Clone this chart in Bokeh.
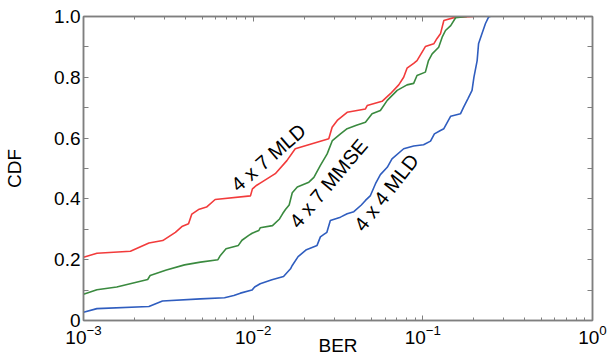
from bokeh.plotting import figure
from bokeh.models import (FixedTicker, LogAxis, LinearAxis, Label, CustomJSTickFormatter,
                          LogTickFormatter, Range1d)
from bokeh.embed import file_html
from bokeh.resources import INLINE

# ---- data ----
mld47_ber = [1.0e-3, 1.2e-3, 1.89e-3, 2.43e-3, 2.93e-3, 3.48e-3, 3.80e-3, 4.16e-3, 4.35e-3,
             4.76e-3, 5.31e-3, 5.97e-3, 9.64e-3, 9.9e-3, 1.05e-2, 1.10e-2, 1.35e-2, 1.58e-2,
             1.77e-2, 2.79e-2, 2.92e-2, 3.13e-2, 3.58e-2, 4.59e-2, 4.70e-2, 5.75e-2, 6.44e-2,
             7.21e-2, 7.71e-2, 8.07e-2, 8.83e-2, 9.24e-2, 0.1035, 0.116, 0.121, 0.127, 0.133,
             0.156, 0.200]
mld47_cdf = [0.208, 0.221, 0.228, 0.255, 0.263, 0.290, 0.309, 0.318, 0.350,
             0.365, 0.373, 0.398, 0.410, 0.433, 0.445, 0.452, 0.483, 0.526,
             0.565, 0.598, 0.636, 0.658, 0.685, 0.696, 0.707, 0.721, 0.746,
             0.775, 0.800, 0.830, 0.846, 0.855, 0.901, 0.910, 0.927, 0.943, 0.987,
             0.998, 1.0]

mmse47_ber = [1.0e-3, 1.2e-3, 1.57e-3, 2.39e-3, 2.47e-3, 3.08e-3, 3.94e-3, 4.89e-3, 6.20e-3,
              6.41e-3, 6.92e-3, 8.18e-3, 8.59e-3, 9.42e-3, 9.86e-3, 1.08e-2, 1.10e-2, 1.30e-2,
              1.43e-2, 1.49e-2, 1.55e-2, 1.63e-2, 1.70e-2, 1.82e-2, 2.13e-2, 2.28e-2, 2.49e-2,
              2.73e-2, 2.93e-2, 3.27e-2, 3.58e-2, 4.06e-2, 4.59e-2, 5.02e-2, 5.62e-2, 6.17e-2,
              7.06e-2, 8.07e-2, 8.83e-2, 9.24e-2, 0.1035, 0.108, 0.1135, 0.124, 0.130, 0.136,
              0.146, 0.156, 0.182]
mmse47_cdf = [0.086, 0.101, 0.110, 0.135, 0.148, 0.166, 0.183, 0.192, 0.200,
              0.214, 0.236, 0.247, 0.264, 0.280, 0.287, 0.296, 0.305, 0.312,
              0.334, 0.351, 0.365, 0.380, 0.420, 0.439, 0.455, 0.471, 0.510,
              0.548, 0.592, 0.614, 0.631, 0.642, 0.652, 0.680, 0.691, 0.724,
              0.757, 0.775, 0.780, 0.806, 0.817, 0.855, 0.877, 0.899, 0.932, 0.954,
              0.970, 0.996, 1.0]

mld44_ber = [1.0e-3, 1.2e-3, 2.43e-3, 2.92e-3, 4.89e-3, 6.78e-3, 7.69e-3, 8.41e-3, 9.84e-3,
             1.02e-2, 1.10e-2, 1.29e-2, 1.51e-2, 1.66e-2, 1.70e-2, 1.84e-2, 2.06e-2, 2.38e-2,
             2.49e-2, 2.61e-2, 2.72e-2, 2.85e-2, 3.27e-2, 3.58e-2, 3.92e-2, 4.34e-2, 4.59e-2,
             4.91e-2, 5.26e-2, 5.62e-2, 6.17e-2, 6.58e-2, 7.71e-2, 8.83e-2, 0.101, 0.111,
             0.117, 0.127, 0.133, 0.146, 0.1666, 0.174, 0.1845, 0.195, 0.200, 0.209, 0.213,
             0.223, 0.234, 0.244, 0.25]
mld44_cdf = [0.027, 0.039, 0.046, 0.064, 0.071, 0.075, 0.082, 0.090, 0.100,
             0.110, 0.121, 0.134, 0.145, 0.170, 0.181, 0.210, 0.233, 0.247,
             0.275, 0.283, 0.290, 0.329, 0.340, 0.351, 0.358, 0.380, 0.395,
             0.411, 0.450, 0.480, 0.504, 0.532, 0.565, 0.574, 0.578, 0.590,
             0.614, 0.625, 0.631, 0.672, 0.680, 0.702, 0.730, 0.757, 0.800, 0.855, 0.910,
             0.943, 0.977, 0.998, 1.0]

x_major = [1e-3, 1e-2, 1e-1, 1e0]
y_major = [0, 0.2, 0.4, 0.6, 0.8, 1.0]

FONT = "Liberation Sans"
GRAY = "#7f7f7f"

x_minor = [m * d for d in x_major[:-1] for m in range(2, 10)]
y_minor = [v + 0.1 for v in y_major[:-1]]

p = figure(width=608, height=361, x_axis_type="log", output_backend="svg",
           toolbar_location=None, x_range=Range1d(1e-3, 1.0), y_range=Range1d(0, 1.0),
           min_border_left=83, min_border_right=16, min_border_top=16, min_border_bottom=41)
p.grid.visible = False
p.outline_line_color = GRAY
p.outline_line_width = 1.5

p.line(mld47_ber, mld47_cdf, line_color="#f23b3b", line_width=1.6)
p.line(mmse47_ber, mmse47_cdf, line_color="#3a8a3f", line_width=1.6)
p.line(mld44_ber, mld44_cdf, line_color="#2f5dbf", line_width=1.6)

xt = FixedTicker(ticks=x_major, minor_ticks=x_minor)
yt = FixedTicker(ticks=y_major, minor_ticks=y_minor)

def style(ax):
    ax.axis_line_color = GRAY
    ax.axis_line_width = 1.5
    ax.major_tick_line_color = GRAY
    ax.minor_tick_line_color = GRAY
    ax.major_tick_in = 5
    ax.major_tick_out = 0
    ax.minor_tick_in = 3
    ax.minor_tick_out = 0
    ax.major_label_text_font = FONT
    ax.major_label_text_font_size = "19px"
    ax.major_label_text_color = "black"
    ax.axis_label_text_font = FONT
    ax.axis_label_text_font_size = "19px"
    ax.axis_label_text_font_style = "normal"
    ax.axis_label_text_color = "black"

xa = p.xaxis[0]
xa.ticker = xt
xa.formatter = LogTickFormatter()
xa.axis_label = "BER"
xa.axis_label_standoff = -12
xa.major_label_standoff = 4
style(xa)

ya = p.yaxis[0]
ya.ticker = yt
ya.formatter = CustomJSTickFormatter(code="return tick == 0 ? '0' : tick.toFixed(1);")
ya.axis_label = "CDF"
ya.axis_label_standoff = 26
ya.major_label_standoff = 3
style(ya)
ya.minor_tick_in = 5

blank = CustomJSTickFormatter(code="return '';")
top = LogAxis(ticker=xt, formatter=blank, major_label_standoff=0)
style(top)
top.major_label_text_font_size = "1px"
p.add_layout(top, "above")
right = LinearAxis(ticker=yt, formatter=blank, major_label_standoff=0)
style(right)
right.minor_tick_in = 5
right.major_label_text_font_size = "1px"
p.add_layout(right, "right")

labels = [("4 x 7 MLD", 1.23e-2, 0.536, 41), ("4 x 7 MMSE", 2.78e-2, 0.451, 50),
          ("4 x 4 MLD", 6.09e-2, 0.421, 52)]
for txt, x, y, ang in labels:
    p.add_layout(Label(x=x, y=y, text=txt, angle=ang, angle_units="deg",
                       text_align="center", text_baseline="middle",
                       text_font=FONT, text_font_size="20px", text_color="black"))

open("out.html", "w").write(file_html(p, INLINE))
